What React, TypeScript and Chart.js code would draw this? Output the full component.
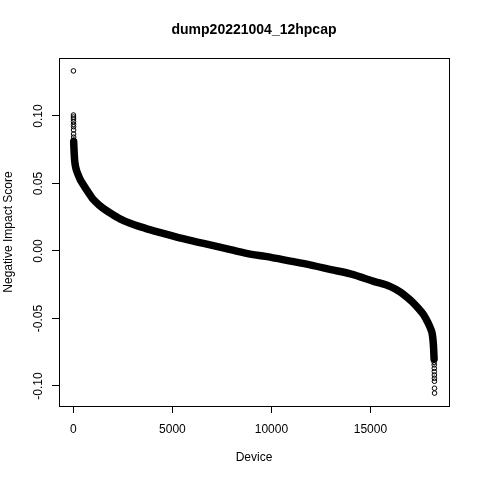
import React, { useEffect, useRef } from "react";
import { Chart, registerables } from "chart.js";

Chart.register(...registerables);

const TITLE = "dump20221004_12hpcap";
const X_TITLE = "Device";
const Y_TITLE = "Negative Impact Score";

const N_DEVICES = 18238;
const Y_MIN = -0.1053;
const Y_MAX = 0.1334;

// main dense band (sorted scores)
const bandDevices = [
  12, 20, 40, 60, 100, 150, 250, 354, 500, 700, 1025, 1300, 1616, 2000, 2460, 3000,
  3636, 4300, 5000, 5900, 6900, 7929, 9000, 9697, 10960, 12000, 13000, 13990, 15168,
  16010, 16515, 16900, 17187, 17450, 17692, 17900, 18050, 18114, 18160, 18190, 18205, 18215,
];
const bandScores = [
  0.081, 0.078, 0.072, 0.0674, 0.063, 0.06, 0.056, 0.0526, 0.049, 0.0445, 0.0378, 0.034,
  0.0304, 0.0268, 0.023, 0.0198, 0.0168, 0.014, 0.0112, 0.0078, 0.0045, 0.001, -0.0025,
  -0.004, -0.0075, -0.0105, -0.0138, -0.017, -0.0225, -0.0264, -0.0305, -0.035, -0.0388,
  -0.043, -0.0474, -0.053, -0.058, -0.061, -0.066, -0.072, -0.077, -0.08,
];

// sparse extreme points drawn as open circles
const topTailDevices = [1, 2, 3, 4, 5, 6, 7, 8, 9, 10, 11];
const topTailScores = [0.1334, 0.1007, 0.0992, 0.0978, 0.0958, 0.0938, 0.0921, 0.0896, 0.0867, 0.0843, 0.0822];
const bottomTailDevices = [18218, 18220, 18222, 18224, 18226, 18228, 18230, 18232, 18235, 18238];
const bottomTailScores = [-0.081, -0.0825, -0.0844, -0.0869, -0.0894, -0.0919, -0.0943, -0.0965, -0.1017, -0.1053];

const xTicks = [0, 5000, 10000, 15000];
const yTicks = [-0.1, -0.05, 0, 0.05, 0.1];

const FONT = "'Liberation Sans', Arial, Helvetica, sans-serif";

const framePlugin = {
  id: "frame",
  afterDraw(chart: any) {
    const { ctx, chartArea } = chart;
    ctx.save();
    ctx.strokeStyle = "#000";
    ctx.lineWidth = 1;
    ctx.strokeRect(
      Math.round(chartArea.left) + 0.5,
      Math.round(chartArea.top) + 0.5,
      Math.round(chartArea.right - chartArea.left),
      Math.round(chartArea.bottom - chartArea.top)
    );
    // main title, centred over the plot region like R's title()
    ctx.fillStyle = "#000";
    ctx.font = `bold 14px ${FONT}`;
    ctx.textAlign = "center";
    ctx.textBaseline = "middle";
    ctx.fillText(TITLE, (chartArea.left + chartArea.right) / 2, 30);
    ctx.restore();
  },
};

export default function App() {
  const ref = useRef<HTMLCanvasElement | null>(null);

  useEffect(() => {
    if (!ref.current) return;
    const xr = N_DEVICES - 1;
    const yr = Y_MAX - Y_MIN;
    const toPts = (xs: number[], ys: number[]) => xs.map((x, i) => ({ x, y: ys[i] }));
    const circleStyle = {
      showLine: false,
      pointStyle: "circle",
      pointRadius: 2.3,
      pointBorderWidth: 1,
      pointBorderColor: "#000",
      pointBackgroundColor: "rgba(0,0,0,0)",
    };
    const chart = new Chart(ref.current, {
      type: "scatter",
      data: {
        datasets: [
          {
            data: toPts(bandDevices, bandScores),
            showLine: true,
            borderColor: "#000",
            borderWidth: 7.5,
            borderCapStyle: "round",
            borderJoinStyle: "round",
            cubicInterpolationMode: "monotone",
            pointRadius: 0,
            pointHoverRadius: 0,
          } as any,
          { data: toPts(topTailDevices, topTailScores), ...circleStyle } as any,
          { data: toPts(bottomTailDevices, bottomTailScores), ...circleStyle } as any,
        ],
      },
      options: {
        responsive: false,
        animation: false,
        devicePixelRatio: 1,
        layout: { padding: { top: 58, right: 31, bottom: 0, left: 0 } },
        plugins: {
          legend: { display: false },
          tooltip: { enabled: false },
          title: { display: false },
        },
        scales: {
          x: {
            type: "linear",
            min: 1 - 0.04 * xr,
            max: N_DEVICES + 0.04 * xr,
            afterBuildTicks: (s: any) => {
              s.ticks = xTicks.map((v) => ({ value: v }));
            },
            afterFit: (s: any) => {
              s.height = 74;
            },
            ticks: {
              color: "#000",
              font: { family: FONT, size: 12 },
              padding: 9,
              maxRotation: 0,
              autoSkip: false,
              callback: (v: any) => String(v),
            },
            grid: {
              display: true,
              drawOnChartArea: false,
              drawTicks: true,
              tickLength: 7,
              color: "#000",
            },
            border: { display: true, color: "#000" },
            title: {
              display: true,
              text: X_TITLE,
              color: "#000",
              font: { family: FONT, size: 12 },
              padding: { top: 0, bottom: 14.8 },
            },
          },
          y: {
            type: "linear",
            min: Y_MIN - 0.04 * yr,
            max: Y_MAX + 0.04 * yr,
            afterBuildTicks: (s: any) => {
              s.ticks = yTicks.map((v) => ({ value: v }));
            },
            afterFit: (s: any) => {
              s.width = 59;
            },
            ticks: {
              color: "#000",
              font: { family: FONT, size: 12 },
              padding: 0,
              minRotation: 90,
              maxRotation: 90,
              crossAlign: "center",
              autoSkip: false,
              callback: (v: any) => Number(v).toFixed(2),
            },
            grid: {
              display: true,
              drawOnChartArea: false,
              drawTicks: true,
              tickLength: 7,
              color: "#000",
            },
            border: { display: true, color: "#000" },
            title: {
              display: true,
              text: Y_TITLE,
              color: "#000",
              font: { family: FONT, size: 12 },
              padding: { top: 1, bottom: 0 },
            },
          },
        },
      } as any,
      plugins: [framePlugin],
    });
    return () => chart.destroy();
  }, []);

  return (
    <div style={{ position: "absolute", left: 0, top: 0, width: 480, height: 480, background: "#fff" }}>
      <canvas ref={ref} width={480} height={480} />
    </div>
  );
}
